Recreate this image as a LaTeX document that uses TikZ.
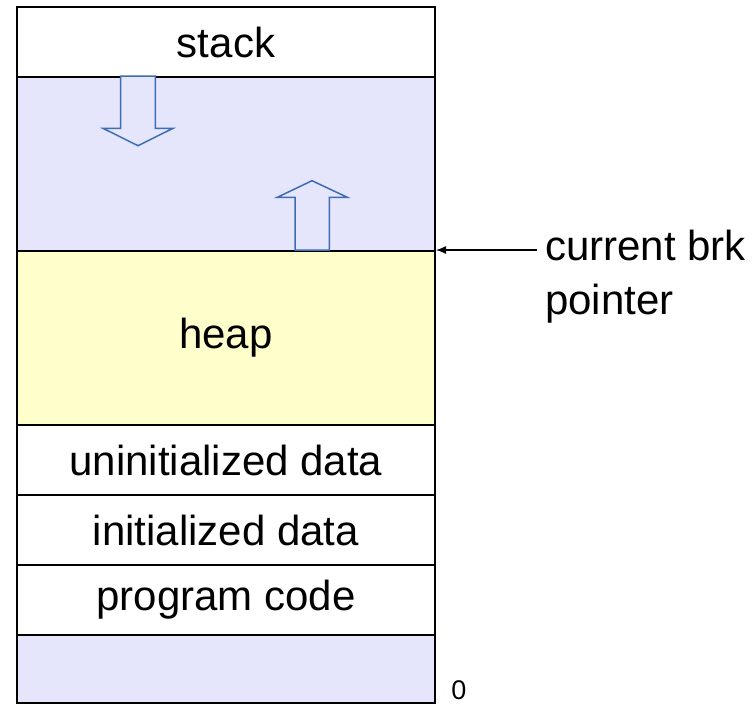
\documentclass[tikz,border=0pt]{standalone}
\usepackage{fontspec}
\setmainfont{Liberation Sans}
\usepackage{xcolor}
\usetikzlibrary{arrows.meta}
\definecolor{free}{HTML}{E5E5FC}
\definecolor{heapbg}{HTML}{FFFFCC}
\definecolor{grow}{HTML}{3D6DB3}
\tikzset{
  seg/.style={draw=black, line width=2pt, minimum width=418pt, inner sep=0pt, anchor=north west, font=\fontsize{42}{54}\selectfont},
  blk/.style={draw=grow, fill=free, line width=1.5pt, line join=miter},
  ptr/.style={draw=black, line width=1.3pt, -{Latex[length=10pt,width=8pt]}},
  lab/.style={font=\fontsize{42}{54}\selectfont, align=left, inner sep=0pt},
}
\begin{document}
\begin{tikzpicture}[x=1pt,y=-1pt]
  \useasboundingbox (0,0) rectangle (752,705);
  \node[seg, minimum height=70pt] (stack) at (16,6) {stack};
  \node[seg, fill=free, minimum height=174pt] (gap) at (16,76) {};
  \node[seg, fill=heapbg, minimum height=174pt] (heap) at (16,250) {heap};
  \node[seg, minimum height=70pt] (bss) at (16,424) {uninitialized data};
  \node[seg, minimum height=70pt] (data) at (16,494) {initialized data};
  \node[seg, minimum height=70pt] (code) at (16,564) {program code};
  \node[seg, fill=free, minimum height=68pt] (low) at (16,634) {};
  % growth of stack and heap
  \draw[blk] (120.7,76) -- (120.7,128.3) -- (103,128.3) -- (138,145.7) -- (173,128.3) -- (155.3,128.3) -- (155.3,76) -- cycle;
  \draw[blk] (295,250) -- (295,197.3) -- (277.3,197.3) -- (312,180.7) -- (347.3,197.3) -- (329.3,197.3) -- (329.3,250) -- cycle;
  % brk
  \node[lab, anchor=west] (brk) at (545,277) {current brk\\pointer};
  \coordinate (top) at (436,250);
  \draw[ptr] (brk.west |- top) ++(-8,0) -- (top);
  \node[font=\fontsize{27}{32}\selectfont, inner sep=0pt] (zero) at (459,690) {0};
\end{tikzpicture}
\end{document}
